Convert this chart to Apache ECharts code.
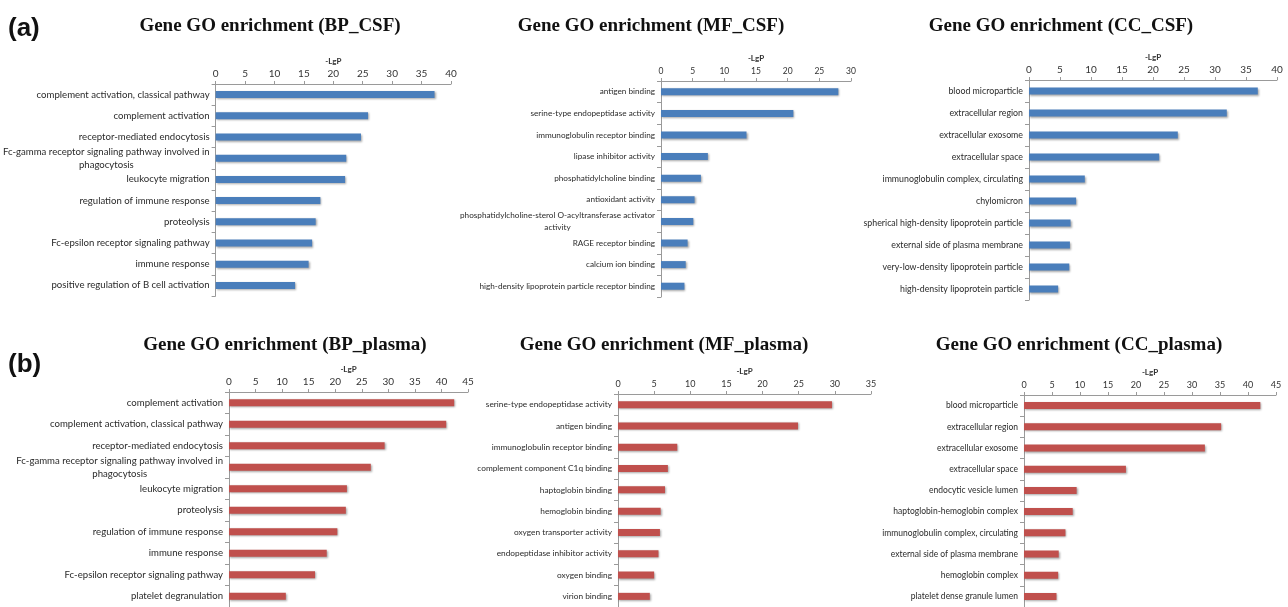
<!DOCTYPE html>
<html>
<head>
<meta charset="utf-8">
<script src="https://cdn.jsdelivr.net/npm/echarts@6/dist/echarts.min.js"></script>
<style>
  html, body { margin: 0; padding: 0; background: #fff; }
  #main { width: 1288px; height: 607px; }
</style>
</head>
<body>
<div id="main"></div>
<script>
// ---------------- data ----------------
var bpCsfTerms = ['complement activation, classical pathway', 'complement activation', 'receptor-mediated endocytosis',
	'Fc-gamma receptor signaling pathway involved in\nphagocytosis', 'leukocyte migration', 'regulation of immune response',
	'proteolysis', 'Fc-epsilon receptor signaling pathway', 'immune response', 'positive regulation of B cell activation'];
var bpCsfValues = [37.2, 25.9, 24.7, 22.2, 22.0, 17.8, 17.0, 16.4, 15.8, 13.5];

var mfCsfTerms = ['antigen binding', 'serine-type endopeptidase activity', 'immunoglobulin receptor binding',
	'lipase inhibitor activity', 'phosphatidylcholine binding', 'antioxidant activity',
	'phosphatidylcholine-sterol O-acyltransferase activator\nactivity', 'RAGE receptor binding', 'calcium ion binding',
	'high-density lipoprotein particle receptor binding'];
var mfCsfValues = [28.0, 20.9, 13.5, 7.4, 6.3, 5.3, 5.1, 4.2, 3.9, 3.7];

var ccCsfTerms = ['blood microparticle', 'extracellular region', 'extracellular exosome', 'extracellular space',
	'immunoglobulin complex, circulating', 'chylomicron', 'spherical high-density lipoprotein particle',
	'external side of plasma membrane', 'very-low-density lipoprotein particle', 'high-density lipoprotein particle'];
var ccCsfValues = [36.9, 31.9, 24.0, 21.0, 9.0, 7.6, 6.7, 6.6, 6.5, 4.7];

var bpPlasmaTerms = ['complement activation', 'complement activation, classical pathway', 'receptor-mediated endocytosis',
	'Fc-gamma receptor signaling pathway involved in\nphagocytosis', 'leukocyte migration', 'proteolysis',
	'regulation of immune response', 'immune response', 'Fc-epsilon receptor signaling pathway', 'platelet degranulation'];
var bpPlasmaValues = [42.4, 40.9, 29.3, 26.7, 22.2, 22.0, 20.4, 18.4, 16.2, 10.7];

var mfPlasmaTerms = ['serine-type endopeptidase activity', 'antigen binding', 'immunoglobulin receptor binding',
	'complement component C1q binding', 'haptoglobin binding', 'hemoglobin binding', 'oxygen transporter activity',
	'endopeptidase inhibitor activity', 'oxygen binding', 'virion binding'];
var mfPlasmaValues = [29.6, 24.9, 8.2, 6.9, 6.5, 5.9, 5.8, 5.6, 5.0, 4.4];

var ccPlasmaTerms = ['blood microparticle', 'extracellular region', 'extracellular exosome', 'extracellular space',
	'endocytic vesicle lumen', 'haptoglobin-hemoglobin complex', 'immunoglobulin complex, circulating',
	'external side of plasma membrane', 'hemoglobin complex', 'platelet dense granule lumen'];
var ccPlasmaValues = [42.2, 35.2, 32.3, 18.2, 9.4, 8.7, 7.4, 6.2, 6.1, 5.8];

var panelTitles = ['Gene GO enrichment (BP_CSF)', 'Gene GO enrichment (MF_CSF)', 'Gene GO enrichment (CC_CSF)',
	'Gene GO enrichment (BP_plasma)', 'Gene GO enrichment (MF_plasma)', 'Gene GO enrichment (CC_plasma)'];
var axisMax = [40, 30, 40, 45, 35, 45];
var axisName = '-LgP';

// ---------------- layout ----------------
var panels = [
	{terms: bpCsfTerms, values: bpCsfValues, left: 212, width: 239, top: 84, height: 212, color: '#4A7EBB', lab: 9.6, tick: 10, tx: 265, ty: 12},
	{terms: mfCsfTerms, values: mfCsfValues, left: 661, width: 190, top: 81, height: 216, color: '#4A7EBB', lab: 8.2, tick: 8.5, tx: 646, ty: 12},
	{terms: ccCsfTerms, values: ccCsfValues, left: 1029, width: 248, top: 80, height: 220, color: '#4A7EBB', lab: 8.8, tick: 10, tx: 1056, ty: 12},
	{terms: bpPlasmaTerms, values: bpPlasmaValues, left: 229, width: 239, top: 392, height: 216, color: '#C0504D', lab: 9.6, tick: 10, tx: 280, ty: 331},
	{terms: mfPlasmaTerms, values: mfPlasmaValues, left: 618, width: 253, top: 394, height: 219, color: '#C0504D', lab: 8.3, tick: 9, tx: 659, ty: 331},
	{terms: ccPlasmaTerms, values: ccPlasmaValues, left: 1024, width: 252, top: 395, height: 219, color: '#C0504D', lab: 8.5, tick: 9, tx: 1074, ty: 331}
];

var labelFont = 'Lato';
var grid = [], xAxis = [], yAxis = [], series = [], title = [];

panels.forEach(function(p, i) {
	grid.push({left: p.left, top: p.top, width: p.width, height: p.height, containLabel: false});
	title.push({
		text: panelTitles[i], left: p.tx, top: p.ty, textAlign: 'center',
		textStyle: {fontFamily: 'Liberation Serif', fontWeight: 'bold', fontSize: 19, color: '#111'}
	});
	xAxis.push({
		gridIndex: i, type: 'value', position: 'top', min: 0, max: axisMax[i], interval: 5,
		name: axisName, nameLocation: 'middle', nameGap: 19,
		nameTextStyle: {fontFamily: labelFont, fontWeight: 'bold', fontSize: 8, color: '#333'},
		axisLine: {show: true, lineStyle: {color: '#9a9a9a', width: 1}},
		axisTick: {show: true, length: 3, lineStyle: {color: '#9a9a9a'}},
		axisLabel: {fontFamily: labelFont, fontSize: p.tick, color: '#333', margin: 5},
		splitLine: {show: false}
	});
	yAxis.push({
		gridIndex: i, type: 'category', inverse: true, data: p.terms,
		axisLine: {show: true, lineStyle: {color: '#9a9a9a', width: 1}},
		axisTick: {show: true, length: 4, lineStyle: {color: '#9a9a9a'}},
		axisLabel: {
			fontFamily: labelFont, fontSize: p.lab, color: '#2a2a2a', margin: 6, lineHeight: p.lab + 3,
			formatter: function(v) {
				if (v.indexOf('\n') < 0) return v;
				return v.split('\n').map(function(s) { return '{c|' + s + '}'; }).join('\n');
			},
			rich: {c: {align: 'center', fontFamily: labelFont, fontSize: p.lab, color: '#2a2a2a', lineHeight: p.lab + 3}}
		}
	});
	series.push({
		type: 'bar', xAxisIndex: i, yAxisIndex: i, data: p.values, barWidth: 7,
		itemStyle: {color: p.color, shadowColor: 'rgba(0,0,0,0.35)', shadowBlur: 2, shadowOffsetX: 1, shadowOffsetY: 1},
		silent: true
	});
});

var myChart = echarts.init(document.getElementById('main'));
var option = {
	backgroundColor: '#fff',
	animation: false,
	title: title,
	grid: grid,
	xAxis: xAxis,
	yAxis: yAxis,
	series: series,
	graphic: [
		{type: 'text', left: 8, top: 16, style: {text: '(a)', fontFamily: 'Liberation Sans', fontWeight: 'bold', fontSize: 26, fill: '#111'}},
		{type: 'text', left: 8, top: 352, style: {text: '(b)', fontFamily: 'Liberation Sans', fontWeight: 'bold', fontSize: 26, fill: '#111'}}
	]
};
if (option && typeof option === 'object') {
	myChart.setOption(option, true);
}
</script>
</body>
</html>
